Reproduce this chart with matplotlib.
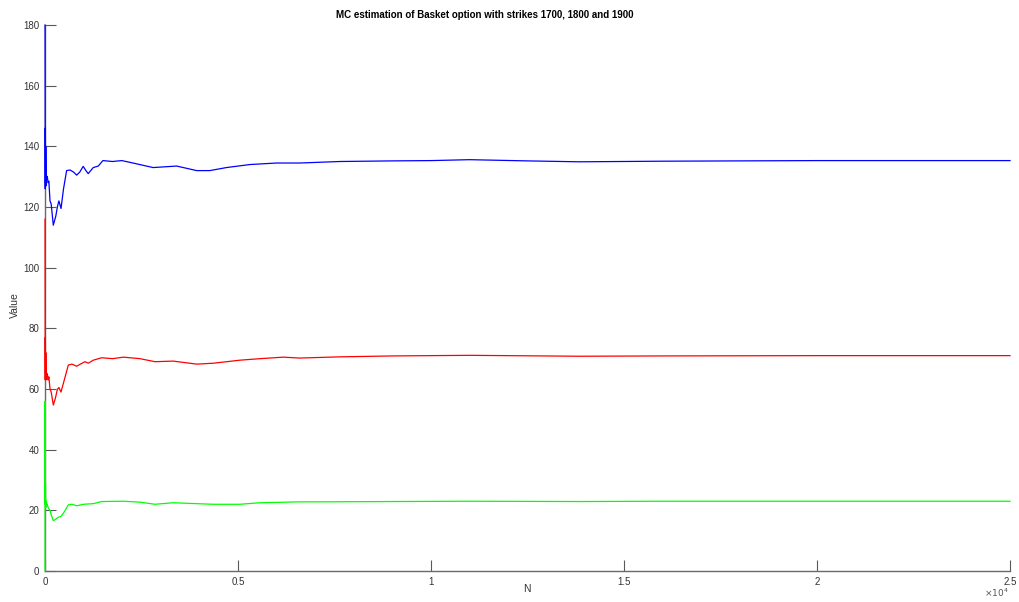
import numpy as np
import matplotlib
matplotlib.use("Agg")
import matplotlib.pyplot as plt
from matplotlib.ticker import FuncFormatter

plt.rcParams['font.family'] = ['Liberation Sans', 'DejaVu Sans']

# running MC estimates (N, value)
blue_n = [1, 3, 6, 10, 15, 20, 28, 35, 45, 60, 80, 100, 130, 160, 215, 280, 320, 360, 415, 480,
          560, 650, 740, 820, 900, 990, 1060, 1120, 1250, 1380, 1500, 1750, 1990, 2280, 2800, 3410,
          3930, 4270, 4700, 5310, 6000, 6600, 7640, 9000, 10000, 11000, 12500, 13850, 16000, 18000,
          20000, 22500, 25000]
blue_v = [180, 158, 126, 146, 128, 140, 127, 131, 129, 130, 128, 128.5, 122, 121, 114, 117, 120, 122, 119.5, 126,
          132, 132.2, 131.5, 130.5, 131.5, 133.4, 132, 131, 133, 133.5, 135.3, 135, 135.3, 134.5, 133, 133.5,
          132, 132, 133, 134, 134.5, 134.5, 135, 135.2, 135.3, 135.6, 135.2, 134.9, 135.1, 135.2,
          135.3, 135.3, 135.3]

red_n = [1, 3, 6, 10, 15, 20, 28, 35, 45, 60, 80, 100, 130, 160, 216, 270, 320, 360, 414, 500,
         604, 700, 820, 930, 1036, 1122, 1250, 1467, 1750, 2030, 2460, 2850, 3320, 3930, 4360, 5050,
         5570, 6170, 6600, 7640, 9000, 11000, 13850, 16000, 20000, 25000]
red_v = [116, 95, 63, 77, 65, 72, 63, 66, 64, 65, 63, 64, 60, 59, 54.7, 57, 59.9, 60.5, 59, 63,
         67.9, 68.2, 67.5, 68.3, 69, 68.5, 69.5, 70.3, 70, 70.5, 70, 69, 69.2, 68.2, 68.5, 69.5,
         70, 70.5, 70.2, 70.6, 70.9, 71.1, 70.8, 70.9, 71, 71]

green_n = [1, 2, 4, 8, 12, 18, 25, 35, 45, 60, 80, 100, 130, 160, 216, 270, 320, 360, 414, 500,
           604, 700, 820, 1000, 1250, 1467, 2030, 2460, 2850, 3320, 3930, 4360, 5050, 5570, 6600, 7120,
           9000, 11000, 13850, 16000, 20000, 25000]
green_v = [0, 56, 30, 22, 29, 24, 21, 23, 21.5, 22, 21, 20.5, 20, 18.5, 16.6, 17, 17.5, 17.8, 18, 19.5,
           21.8, 22, 21.5, 22, 22.2, 22.9, 23, 22.7, 22, 22.5, 22.2, 22, 22, 22.5, 22.8, 22.8,
           22.9, 23, 22.9, 23, 23, 23]

x_ticks = [0, 5000, 10000, 15000, 20000, 25000]
y_ticks = [0, 20, 40, 60, 80, 100, 120, 140, 160, 180]

fig = plt.figure(figsize=(10.19, 6.02), dpi=100)
ax = fig.add_axes([45/1019, 31/602, 965/1019, 546/602])

# lines drawn above the spines, as in the original
ax.plot(blue_n, blue_v, color="#0000ff", lw=0.9, zorder=3, clip_on=False)
ax.plot(red_n, red_v, color="#ff0000", lw=0.9, zorder=3, clip_on=False)
ax.plot(green_n, green_v, color="#00ff00", lw=0.9, zorder=3, clip_on=False)

ax.set_xlim(0, 25000)
ax.set_ylim(0, 180)
ax.set_xticks(x_ticks)
ax.set_yticks(y_ticks)
ax.xaxis.set_major_formatter(FuncFormatter(lambda v, p: "%g" % (v / 1e4)))

for s in ["top", "right"]:
    ax.spines[s].set_visible(False)
for s in ["left", "bottom"]:
    ax.spines[s].set_color("#6a6a6a")
    ax.spines[s].set_linewidth(1.0)
ax.tick_params(direction="in", length=8, width=0.8, color="#5a5a5a",
               labelsize=7, labelcolor="#333333", pad=4)

fig.text(485/1019, 1 - 15/602, "MC estimation of Basket option with strikes 1700, 1800 and 1900",
         ha="center", va="center", fontsize=7, fontweight="bold")
fig.text(527/1019, 1 - 589/602, "N", ha="center", va="center", fontsize=7.5, color="#333333")
fig.text(15/1019, 1 - 305/602, "Value", ha="center", va="center", rotation=90, fontsize=7.5, color="#333333")
fig.text(996/1019, 1 - 593/602, r"$\times10^{4}$", ha="center", va="center", fontsize=6.5, color="#555555")

fig.savefig("out.png", dpi=100)
